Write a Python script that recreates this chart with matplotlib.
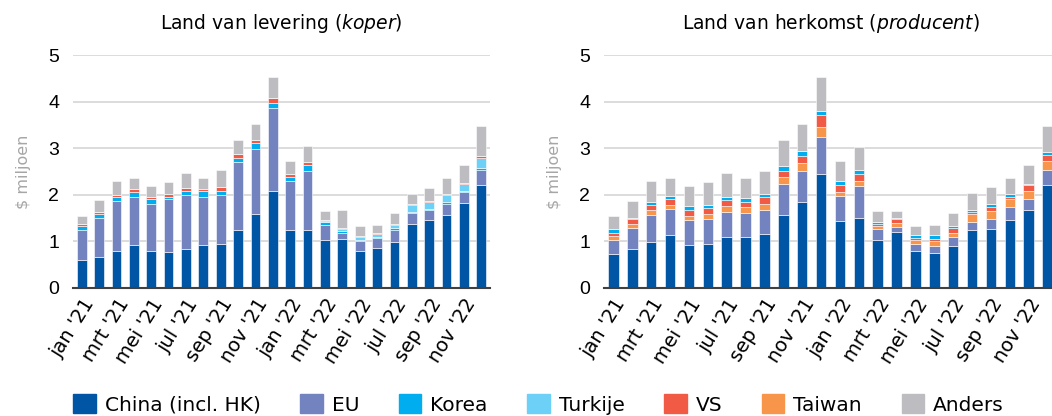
import matplotlib
matplotlib.use('Agg')
import matplotlib.pyplot as plt
import matplotlib.patches as mpatches
import numpy as np

plt.rcParams['font.family'] = ['DejaVu Sans']
plt.rcParams['mathtext.fontset'] = 'custom'
plt.rcParams['mathtext.rm'] = 'DejaVu Sans'
plt.rcParams['mathtext.it'] = 'DejaVu Sans:italic'

# months jan '21 .. dec '22
months = ["jan '21", "feb '21", "mrt '21", "apr '21", "mei '21", "jun '21",
          "jul '21", "aug '21", "sep '21", "okt '21", "nov '21", "dec '21",
          "jan '22", "feb '22", "mrt '22", "apr '22", "mei '22", "jun '22",
          "jul '22", "aug '22", "sep '22", "okt '22", "nov '22", "dec '22"]

# Land van levering (koper), $ miljoen
lev_china = [0.60, 0.67, 0.80, 0.93, 0.80, 0.77, 0.84, 0.92, 0.95, 1.25, 1.58, 2.09,
             1.25, 1.25, 1.03, 1.05, 0.80, 0.86, 0.99, 1.38, 1.46, 1.57, 1.83, 2.22]
lev_eu = [0.65, 0.84, 1.06, 1.03, 1.01, 1.14, 1.15, 1.04, 1.04, 1.45, 1.40, 1.78,
          1.04, 1.27, 0.33, 0.14, 0.20, 0.22, 0.26, 0.23, 0.22, 0.24, 0.23, 0.32]
lev_korea = [0.09, 0.07, 0.10, 0.11, 0.10, 0.05, 0.09, 0.12, 0.10, 0.10, 0.14, 0.11,
             0.10, 0.11, 0.06, 0.04, 0.04, 0.02, 0.03, 0.03, 0.02, 0.03, 0.03, 0.03]
lev_turkije = [0.00, 0.00, 0.00, 0.00, 0.00, 0.00, 0.00, 0.00, 0.00, 0.00, 0.00, 0.00,
               0.00, 0.00, 0.02, 0.04, 0.05, 0.06, 0.07, 0.14, 0.14, 0.15, 0.15, 0.23]
lev_vs = [0.04, 0.05, 0.04, 0.05, 0.05, 0.05, 0.07, 0.05, 0.08, 0.07, 0.06, 0.10,
          0.06, 0.08, 0.02, 0.01, 0.02, 0.02, 0.02, 0.03, 0.02, 0.02, 0.02, 0.03]
lev_taiwan = [0.0] * 24
lev_anders = [0.17, 0.25, 0.29, 0.25, 0.22, 0.27, 0.31, 0.24, 0.36, 0.31, 0.34, 0.44,
              0.27, 0.34, 0.19, 0.39, 0.22, 0.17, 0.24, 0.20, 0.29, 0.36, 0.39, 0.65]

# Land van herkomst (producent), $ miljoen
her_china = [0.73, 0.84, 0.99, 1.14, 0.93, 0.95, 1.10, 1.10, 1.16, 1.57, 1.85, 2.45,
             1.44, 1.51, 1.03, 1.20, 0.80, 0.75, 0.90, 1.25, 1.27, 1.46, 1.68, 2.20]
her_eu = [0.30, 0.45, 0.58, 0.56, 0.53, 0.53, 0.53, 0.51, 0.52, 0.67, 0.66, 0.80,
          0.54, 0.68, 0.23, 0.11, 0.14, 0.15, 0.20, 0.17, 0.21, 0.28, 0.23, 0.34]
her_taiwan = [0.09, 0.09, 0.11, 0.08, 0.09, 0.10, 0.13, 0.12, 0.12, 0.15, 0.17, 0.21,
              0.08, 0.10, 0.07, 0.08, 0.09, 0.10, 0.09, 0.16, 0.18, 0.16, 0.17, 0.18]
her_vs = [0.07, 0.09, 0.10, 0.12, 0.13, 0.13, 0.12, 0.11, 0.15, 0.13, 0.16, 0.25,
          0.15, 0.16, 0.04, 0.09, 0.05, 0.06, 0.10, 0.05, 0.07, 0.06, 0.12, 0.13]
her_korea = [0.07, 0.04, 0.07, 0.08, 0.08, 0.07, 0.08, 0.10, 0.06, 0.10, 0.11, 0.09,
             0.08, 0.08, 0.04, 0.03, 0.06, 0.07, 0.04, 0.05, 0.07, 0.05, 0.04, 0.07]
her_turkije = [0.0] * 24
her_anders = [0.29, 0.35, 0.44, 0.39, 0.42, 0.49, 0.50, 0.43, 0.51, 0.56, 0.56, 0.72,
              0.43, 0.50, 0.24, 0.15, 0.19, 0.22, 0.28, 0.35, 0.36, 0.36, 0.41, 0.56]

colors = {
    'China (incl. HK)': '#0055A4',
    'EU': '#7383BF',
    'Korea': '#00AEEF',
    'Turkije': '#6DD0F7',
    'VS': '#F15A45',
    'Taiwan': '#F7964A',
    'Anders': '#BDBDC1',
}

fig = plt.figure(figsize=(10.52, 4.16), dpi=100)
ax1 = fig.add_axes([73 / 1052, 1 - 288 / 416, 417 / 1052, 233 / 416])
ax2 = fig.add_axes([604 / 1052, 1 - 288 / 416, 453 / 1052, 233 / 416])

left_stack = [('China (incl. HK)', lev_china), ('EU', lev_eu), ('Korea', lev_korea),
              ('Turkije', lev_turkije), ('VS', lev_vs), ('Taiwan', lev_taiwan),
              ('Anders', lev_anders)]
right_stack = [('China (incl. HK)', her_china), ('EU', her_eu), ('Taiwan', her_taiwan),
               ('VS', her_vs), ('Korea', her_korea), ('Turkije', her_turkije),
               ('Anders', her_anders)]

x = np.arange(len(months))
for ax, stack, title in [(ax1, left_stack, r"Land van levering $\it{(koper)}$"),
                         (ax2, right_stack, r"Land van herkomst $\it{(producent)}$")]:
    bottom = np.zeros(len(months))
    for name, vals in stack:
        vals = np.array(vals)
        ax.bar(x, vals, 0.56, bottom=bottom, color=colors[name],
               edgecolor='white', linewidth=0.4, zorder=3)
        bottom += vals
    ax.set_xlim(-0.5, 23.5)
    ax.set_ylim(0, 5)
    ax.set_yticks([0, 1, 2, 3, 4, 5])
    ax.grid(axis='y', color='#D9D9D9', linewidth=1.3, zorder=0)
    for s in ['left', 'right', 'top']:
        ax.spines[s].set_visible(False)
    ax.spines['bottom'].set_color('#404040')
    ax.spines['bottom'].set_linewidth(1.5)
    ax.spines['bottom'].set_zorder(4)
    ax.tick_params(axis='y', length=0, pad=10, labelsize=14)
    for lab in ax.get_yticklabels():
        lab.set_family('Liberation Sans')
    ax.set_xticks(x[::2])
    ax.set_xticklabels(months[::2], rotation=58, ha='right', rotation_mode='anchor',
                       fontsize=14)
    ax.tick_params(axis='x', length=0, pad=5)
    ax.set_ylabel('$ miljoen', color='#A6A6A6', fontsize=11.5, labelpad=12)
    ax.set_title(title, fontsize=13.5, pad=19)

handles = [mpatches.Patch(color=c, label=n) for n, c in colors.items()]
fig.legend(handles=handles, loc='lower center', ncol=7, frameon=False,
           bbox_to_anchor=(0.512, -0.04), fontsize=14.5, handlelength=1.1,
           handleheight=1.1, handletextpad=0.45, columnspacing=1.98)

fig.savefig('out.png', dpi=100)
